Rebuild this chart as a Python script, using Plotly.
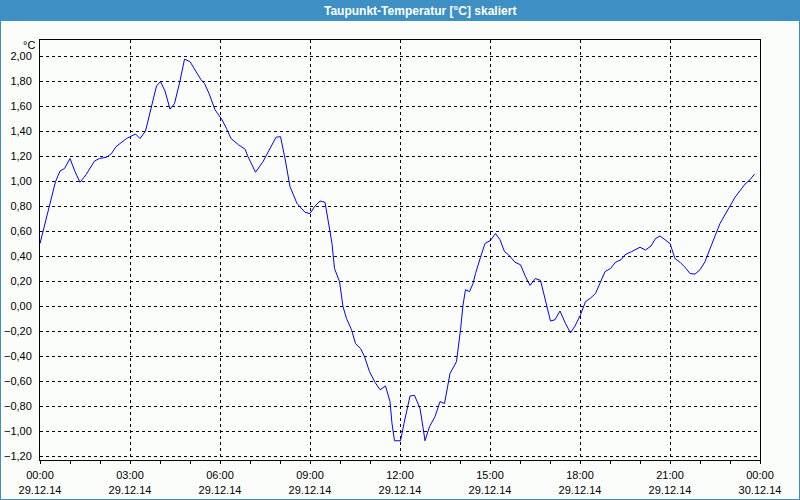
import plotly.graph_objects as go

DAY = "2014-12-29"
times = ["00:00","00:10","00:19","00:31","00:40","00:49","01:00","01:10","01:20","01:32",
         "01:49","01:59","02:13","02:23","02:32","02:43","02:53","03:11","03:20","03:31",
         "03:41","03:53","04:01","04:10","04:20","04:29","04:40","04:49","05:00","05:10",
         "05:22","05:29","05:38","05:50","06:04","06:13","06:22","06:37","06:50","06:56",
         "07:11","07:26","07:37","07:52","08:01","08:10","08:20","08:34","08:50","09:00",
         "09:10","09:20","09:30","09:36","09:44","09:49","09:59","10:06","10:13","10:23",
         "10:31","10:41","10:49","10:59","11:10","11:20","11:31","11:40","11:44","11:49",
         "12:01","12:08","12:20","12:29","12:40","12:46","12:50","12:59","13:10","13:20",
         "13:29","13:40","13:53","14:01","14:06","14:11","14:19","14:26","14:31","14:41",
         "14:50","15:01","15:11","15:20","15:29","15:37","15:50","16:01","16:11","16:20",
         "16:31","16:41","16:50","17:01","17:10","17:20","17:31","17:41","17:50","18:01",
         "18:11","18:20","18:31","18:41","18:50","19:01","19:11","19:22","19:30","19:43",
         "20:00","20:11","20:22","20:31","20:40","20:50","21:00","21:10","21:20","21:30",
         "21:40","21:50","22:00","22:10","22:20","22:30","22:40","22:50","23:00","23:10",
         "23:20","23:30","23:40","23:49"]
dewpoint = [0.50,0.66,0.82,0.995,1.08,1.10,1.18,1.075,0.99,1.05,
            1.16,1.18,1.19,1.22,1.275,1.31,1.34,1.376,1.34,1.40,
            1.57,1.76,1.795,1.72,1.575,1.62,1.80,1.975,1.955,1.89,
            1.81,1.78,1.70,1.57,1.49,1.42,1.34,1.29,1.255,1.195,
            1.07,1.155,1.235,1.35,1.355,1.18,0.955,0.82,0.75,0.74,
            0.80,0.84,0.83,0.69,0.50,0.30,0.195,-0.005,-0.10,-0.19,
            -0.30,-0.34,-0.405,-0.525,-0.61,-0.67,-0.64,-0.765,-0.94,-1.078,
            -1.078,-0.94,-0.72,-0.715,-0.82,-0.97,-1.078,-0.965,-0.885,-0.765,
            -0.78,-0.54,-0.445,-0.19,0.008,0.13,0.115,0.18,0.26,0.39,
            0.50,0.525,0.58,0.53,0.435,0.41,0.35,0.33,0.235,0.165,
            0.22,0.205,0.06,-0.12,-0.11,-0.04,-0.14,-0.215,-0.16,-0.07,
            0.035,0.06,0.10,0.195,0.275,0.30,0.35,0.37,0.41,0.435,
            0.47,0.448,0.48,0.54,0.56,0.53,0.50,0.38,0.35,0.31,
            0.26,0.255,0.29,0.355,0.45,0.56,0.66,0.735,0.80,0.87,
            0.92,0.975,1.01,1.055]

title_text = "Taupunkt-Temperatur [°C] skaliert"
unit_text = "°C"

x = [f"{DAY} {t}" for t in times]

W, H = 800, 500
L, R, T, B = 40, 40, 40, 40
pw, ph = W - L - R, H - T - B

def px(xp):
    return (xp - L) / pw

def py(yp):
    return (H - B - yp) / ph

BLUE = "#3d8fc4"
FONT = "Liberation Sans"

fig = go.Figure()
fig.add_trace(go.Scatter(x=x, y=dewpoint, mode="lines",
                         line=dict(color="#0000ff", width=1), hoverinfo="skip"))

fig.update_layout(
    width=W, height=H,
    margin=dict(l=L, r=R, t=T, b=B, autoexpand=False),
    paper_bgcolor="#fbfdfb", plot_bgcolor="#fbfdfb",
    showlegend=False,
    separators=",.",
    font=dict(family=FONT, size=11, color="black"),
    xaxis=dict(
        type="date", automargin=False,
        range=["2014-12-29 00:00", "2014-12-30 00:00"],
        tick0="2014-12-29 00:00", dtick=3 * 3600000,
        tickformat="%H:%M<br>%d.%m.%y",
        ticks="outside", ticklen=3, tickcolor="black", ticklabelstandoff=2,
        showgrid=True, gridcolor="black", gridwidth=1, griddash="3px,3px",
        showline=True, linecolor="black", linewidth=1, mirror=True,
        zeroline=False,
        minor=dict(dtick=3600000, ticks="outside", ticklen=3, tickcolor="black", showgrid=False),
        tickfont=dict(family=FONT, size=11, color="black"),
    ),
    yaxis=dict(
        automargin=False,
        range=[-1.232, 2.128],
        tick0=0, dtick=0.2, tickformat=".2f",
        ticks="", ticklabelstandoff=5,
        showgrid=True, gridcolor="black", gridwidth=1, griddash="3px,3px",
        showline=True, linecolor="black", linewidth=1, mirror=True,
        zeroline=False,
        tickfont=dict(family=FONT, size=11, color="black"),
    ),
    shapes=[
        dict(type="rect", xref="paper", yref="paper", x0=px(0), x1=px(W), y0=py(21), y1=py(0),
             fillcolor=BLUE, line=dict(width=0), layer="above"),
        dict(type="line", xref="paper", yref="paper", x0=px(0.5), x1=px(0.5), y0=py(0), y1=py(500),
             line=dict(color=BLUE, width=1)),
        dict(type="line", xref="paper", yref="paper", x0=px(799.5), x1=px(799.5), y0=py(0), y1=py(500),
             line=dict(color=BLUE, width=1)),
        dict(type="line", xref="paper", yref="paper", x0=px(0), x1=px(800), y0=py(499.5), y1=py(499.5),
             line=dict(color=BLUE, width=1)),
    ],
    annotations=[
        dict(text=f"<b>{title_text}</b>", xref="paper", yref="paper", x=px(420), y=py(10.5),
             xanchor="center", yanchor="middle", showarrow=False,
             font=dict(family=FONT, size=12, color="white")),
        dict(text=unit_text, xref="paper", yref="paper", x=px(37), y=py(45),
             xanchor="right", yanchor="middle", showarrow=False,
             font=dict(family=FONT, size=11, color="black")),
    ],
)

fig.write_html("out.html")
